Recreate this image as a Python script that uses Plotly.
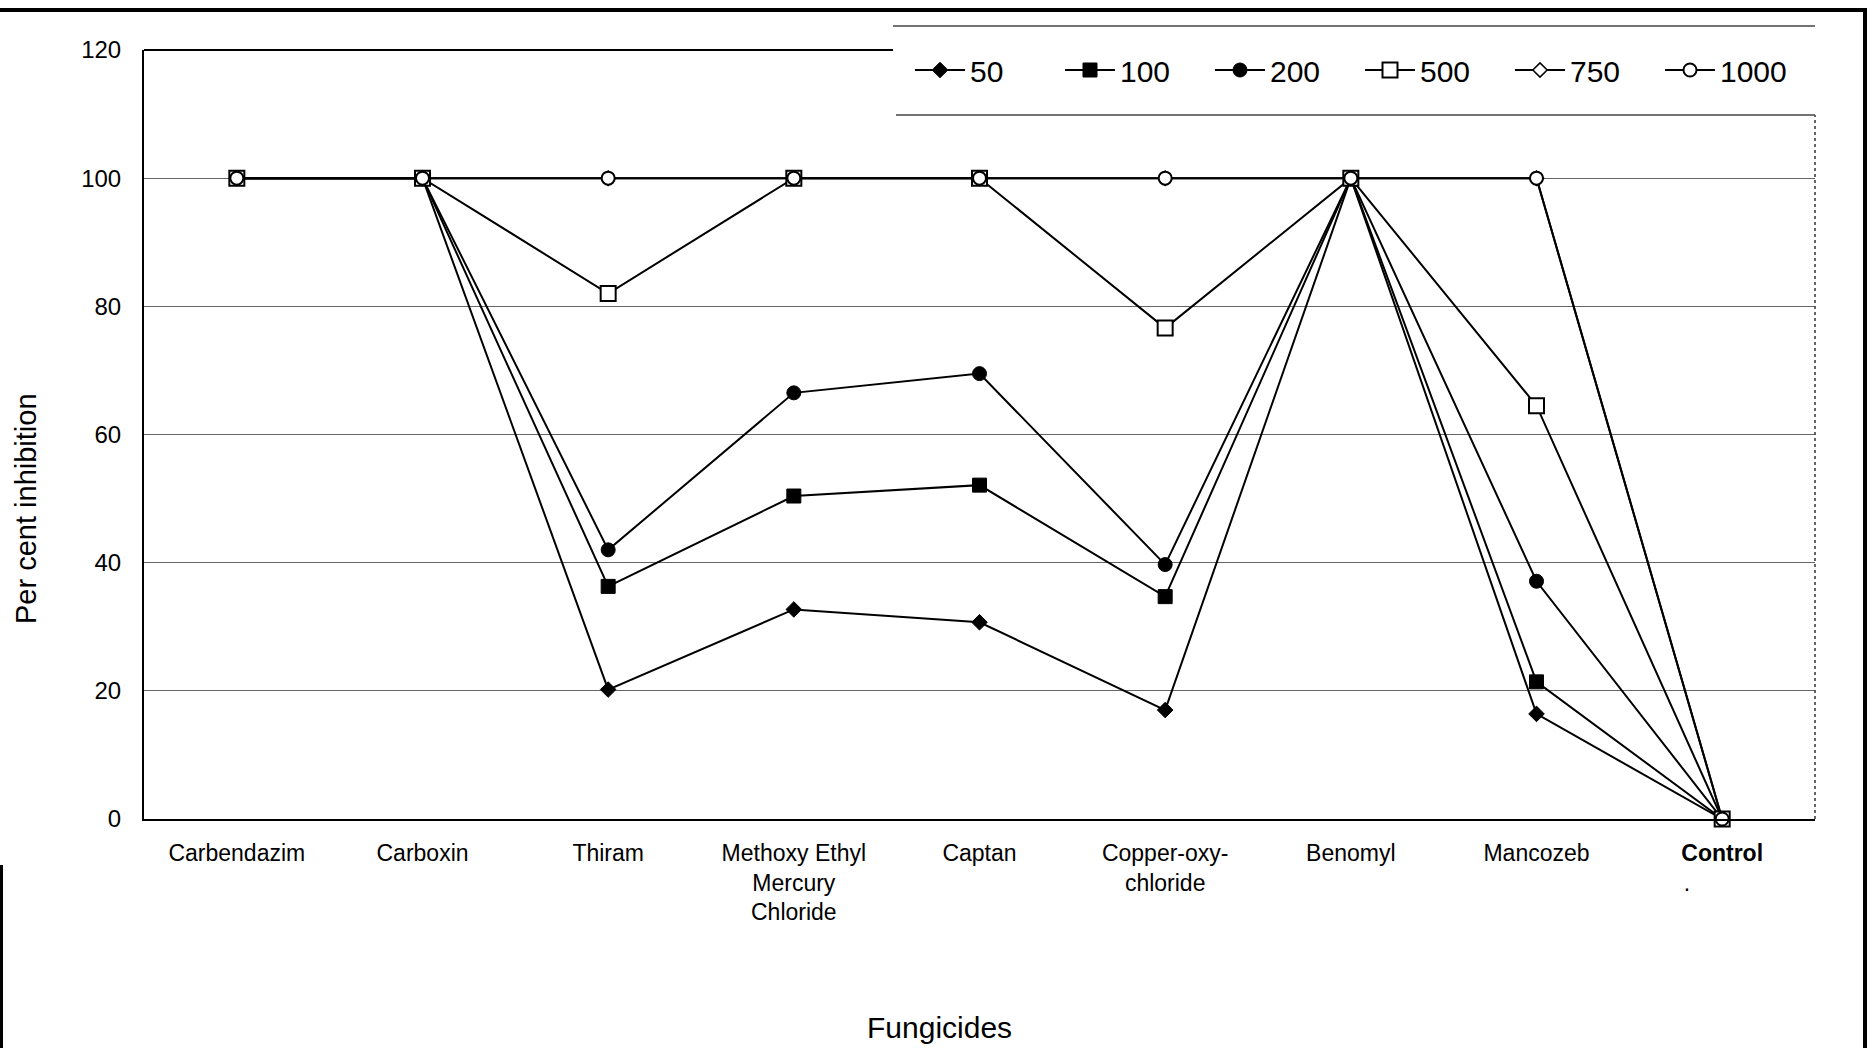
import plotly.graph_objects as go

# Fungicides tested (category axis) and their tick labels
fungicides = ["Carbendazim", "Carboxin", "Thiram", "Methoxy Ethyl Mercury Chloride",
              "Captan", "Copper-oxy-chloride", "Benomyl", "Mancozeb", "Control"]
tick_labels = ["Carbendazim", "Carboxin", "Thiram", "Methoxy Ethyl<br>Mercury<br>Chloride",
               "Captan", "Copper-oxy-<br>chloride", "Benomyl", "Mancozeb",
               "<b>Control</b><br>." + "\u00a0" * 11]

# Per cent inhibition at each concentration (ppm)
conc_50 = [100, 100, 20.2, 32.7, 30.7, 17.0, 100, 16.4, 0]
conc_100 = [100, 100, 36.3, 50.4, 52.1, 34.7, 100, 21.4, 0]
conc_200 = [100, 100, 42.0, 66.5, 69.5, 39.7, 100, 37.1, 0]
conc_500 = [100, 100, 82.0, 100, 100, 76.6, 100, 64.5, 0]
conc_750 = [100, 100, 100, 100, 100, 100, 100, 100, 0]
conc_1000 = [100, 100, 100, 100, 100, 100, 100, 100, 0]

y_ticks = [0, 20, 40, 60, 80, 100, 120]

FONT = "Liberation Sans, Arial, sans-serif"

series = [
    ("50", conc_50, dict(symbol="diamond", size=12, color="black", line=dict(color="black", width=1))),
    ("100", conc_100, dict(symbol="square", size=14, color="black", line=dict(color="black", width=1))),
    ("200", conc_200, dict(symbol="circle", size=14, color="black", line=dict(color="black", width=1))),
    ("500", conc_500, dict(symbol="square", size=15, color="white", line=dict(color="black", width=2))),
    ("750", conc_750, dict(symbol="diamond", size=11, color="white", line=dict(color="black", width=1.5))),
    ("1000", conc_1000, dict(symbol="circle", size=13, color="white", line=dict(color="black", width=2))),
]

fig = go.Figure()
for name, vals, marker in series:
    fig.add_trace(go.Scatter(
        x=fungicides, y=vals, name=name, mode="lines+markers",
        line=dict(color="black", width=2), marker=marker, cliponaxis=False,
    ))

# pixel -> paper helpers for the plot box (left 144, right 1815, top 50, bottom 819)
L, R, T, B = 144, 1815, 50, 819
def px(x):
    return (x - L) / (R - L)
def py(y):
    return (B - y) / (B - T)

shapes = [
    # plot top border up to the legend box
    dict(type="line", xref="paper", yref="paper", x0=0, x1=px(893), y0=1, y1=1,
         line=dict(color="black", width=2)),
    # plot right border (dotted)
    dict(type="line", xref="paper", yref="paper", x0=1, x1=1, y0=0, y1=py(115),
         line=dict(color="#333", width=1.5, dash="dot")),
    # legend box top and bottom edges
    dict(type="line", xref="paper", yref="paper", x0=px(893), x1=1, y0=py(26), y1=py(26),
         line=dict(color="#444", width=1.5)),
    dict(type="line", xref="paper", yref="paper", x0=px(896), x1=1, y0=py(115), y1=py(115),
         line=dict(color="#444", width=1.5)),
    # outer chart frame
    dict(type="line", xref="paper", yref="paper", x0=px(0), x1=px(1867), y0=py(10), y1=py(10),
         line=dict(color="black", width=4)),
    dict(type="line", xref="paper", yref="paper", x0=px(1865), x1=px(1865), y0=py(8), y1=py(1048),
         line=dict(color="black", width=4)),
    dict(type="line", xref="paper", yref="paper", x0=px(1.5), x1=px(1.5), y0=py(865), y1=py(1048),
         line=dict(color="black", width=3)),
]

annotations = [
    dict(text="Per cent inhibition", xref="paper", yref="paper", x=px(26), y=py(509),
         textangle=-90, showarrow=False, font=dict(family=FONT, size=29, color="black"),
         xanchor="center", yanchor="middle"),
    dict(text="Fungicides", xref="paper", yref="paper", x=px(939), y=py(1027),
         showarrow=False, font=dict(family=FONT, size=30, color="black"),
         xanchor="center", yanchor="middle"),
]

fig.update_layout(
    width=1873, height=1048,
    margin=dict(l=L, r=1873 - R, t=T, b=1048 - B),
    paper_bgcolor="white", plot_bgcolor="white",
    font=dict(family=FONT, color="black"),
    showlegend=True,
    legend=dict(orientation="h", x=px(910), y=py(70), xanchor="left", yanchor="middle",
                font=dict(family=FONT, size=30, color="black"),
                bgcolor="rgba(0,0,0,0)", borderwidth=0,
                itemwidth=50, entrywidth=85, entrywidthmode="pixels", traceorder="normal"),
    shapes=shapes,
    annotations=annotations,
)

fig.update_xaxes(
    type="category", categoryorder="array", categoryarray=fungicides,
    range=[-0.5, len(fungicides) - 0.5],
    tickmode="array", tickvals=fungicides, ticktext=tick_labels,
    showgrid=False, showline=True, linecolor="black", linewidth=2,
    ticks="", ticklabelstandoff=12,
    tickfont=dict(family=FONT, size=23, color="black"),
)
fig.update_yaxes(
    range=[0, 120], tickmode="array", tickvals=y_ticks,
    showgrid=True, gridcolor="#666", gridwidth=1,
    showline=True, linecolor="black", linewidth=2, zeroline=False,
    ticks="", ticklabelstandoff=16,
    tickfont=dict(family=FONT, size=24, color="black"),
)

fig.write_html("out.html")
